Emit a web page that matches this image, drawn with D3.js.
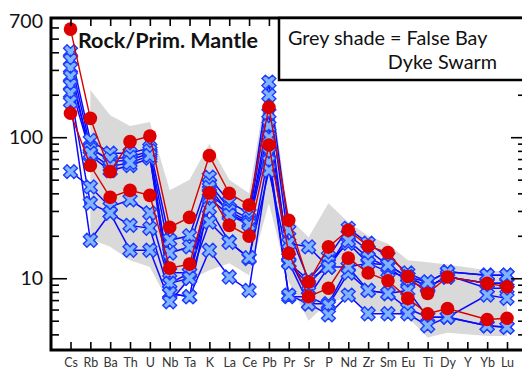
<!DOCTYPE html>
<html>
<head>
<meta charset="utf-8">
<script src="https://cdn.jsdelivr.net/npm/d3@7"></script>
<style>
  body { margin: 0; background: #fff; }
  svg { display: block; }
</style>
</head>
<body>
<script>
// element order of the spider diagram
const elements = ["Cs","Rb","Ba","Th","U","Nb","Ta","K","La","Ce","Pb","Pr","Sr","P","Nd","Zr","Sm","Eu","Ti","Dy","Y","Yb","Lu"];

// grey shade (False Bay Dyke Swarm field), null = no value
const greyUpper = [null,216,143,120,128,42,50,90,50,40,290,27,19.5,34,25,20,17.6,13.4,13,12.5,null,11.4,11.1];
const greyLower = [null,19,16.7,13.4,12,6.5,9.7,11.4,12.8,10.5,34,9.4,5,6.8,7.3,5.7,5.7,5.3,3.8,4.1,null,3.9,3.9];

// blue X samples (no Y values)
const blue1 = [404,95,77,77,84,18.6,20,52,34.8,28.8,246,21.9,9.7,14.2,22.6,17.7,14.2,10.9,9.4,11.1,null,10.5,10.5];
const blue2 = [351,85,67,69,77,15.1,16.7,47,31.2,26.5,198,17.7,16.7,12,20.2,15.8,12.4,10.2,8.7,10.2,null,9.2,9.2];
const blue3 = [309,74,58,63,71,11,10.9,44,28.8,24.4,148,12.8,9,13,17.7,12.8,11.1,10.2,8.7,10.2,null,9.2,9.2];
const blue4 = [268,82,70,72,80,9.2,10,40,30,25,120,14,7.4,12,18.5,14,12,9.5,8.5,10.5,null,8.5,8.5];
const blue5 = [234,77,62,66,74,7.8,7.4,37,28,24,100,13,6.6,6.6,12,8.2,7.8,8.2,5.3,5.3,null,7.6,7.2];
const blue6 = [57,44.4,32,36,29,9.2,10.9,31.3,18.1,13.8,77,7.4,7.4,6.4,10.9,8.2,7.8,6.1,5.3,5.3,null,4.6,4.5];
const blue7 = [205,34,29,23.7,22.6,7.8,7.4,15.8,10.2,8.2,67,7.6,6.6,5.5,7.6,5.6,5.6,5.6,4.6,5.3,null,4.6,4.5];
const blue8 = [178,18.6,29,15.8,15.8,6.8,10,25,18,14,58,12.8,9.7,12,12,12.8,12.4,10.2,9.4,11.1,null,10.5,10.5];

// red circle samples
const redA = [584,136,57,93,102,23,27,74,40,33,163,25.8,9.4,16.7,21.9,16.9,15.2,10.3,7.8,10.2,null,9.2,8.7];
const redB = [148,63,37.5,42,38.7,11.8,12.6,40.3,23.7,19.9,88,15,7.4,8.5,13.9,10.9,9.6,7.2,5.6,6.1,null,5.1,5.2];

const majorTicks = [10, 100];
const minorTicks = [4,5,6,7,8,9,20,30,40,50,60,70,80,90,200,300,400,500,600];
const tickLabels = [10, 100, 700];

const blueSeries = [blue1, blue2, blue3, blue4, blue5, blue6, blue7, blue8];
const redSeries = [redA, redB];

const W = 522, H = 369;
const plotLeft = 51, plotRight = 524, plotTop = 18, plotBottom = 350;
const font = "Lato, 'Open Sans', sans-serif";

const svg = d3.select("body").append("svg")
  .attr("width", W)
  .attr("height", H);

const x = d3.scalePoint().domain(elements).range([70.5, 507]);
const y = d3.scaleLog().domain([3.1, 700]).range([plotBottom, plotTop]);

// grey field
const greyData = elements
  .map((e, i) => ({ e: e, hi: greyUpper[i], lo: greyLower[i] }))
  .filter((d) => d.hi != null && d.lo != null);

svg.append("path")
  .datum(greyData)
  .attr("fill", "#d9d9d9")
  .attr("d", d3.area()
    .x((d) => x(d.e))
    .y0((d) => y(d.lo))
    .y1((d) => y(d.hi)));

const toPoints = (vals) => elements
  .map((e, i) => ({ e: e, v: vals[i] }))
  .filter((d) => d.v != null);

const line = d3.line().x((d) => x(d.e)).y((d) => y(d.v));

// blue lines then markers
svg.append("g").selectAll("path")
  .data(blueSeries)
  .enter()
  .append("path")
  .attr("d", (d) => line(toPoints(d)))
  .attr("fill", "none")
  .attr("stroke", "#0a0aff")
  .attr("stroke-width", 1.5);

const xMark = d3.symbol().type(d3.symbolCross).size(120);
blueSeries.forEach((s) => {
  svg.append("g").selectAll("path")
    .data(toPoints(s))
    .enter()
    .append("path")
    .attr("d", xMark)
    .attr("transform", (d) => `translate(${x(d.e)},${y(d.v)}) rotate(45)`)
    .attr("fill", "#80b4ff")
    .attr("stroke", "#1e3cff")
    .attr("stroke-width", 1.4);
});

// red lines and circles on top
svg.append("g").selectAll("path")
  .data(redSeries)
  .enter()
  .append("path")
  .attr("d", (d) => line(toPoints(d)))
  .attr("fill", "none")
  .attr("stroke", "#d60000")
  .attr("stroke-width", 1.4);

redSeries.forEach((s) => {
  svg.append("g").selectAll("circle")
    .data(toPoints(s))
    .enter()
    .append("circle")
    .attr("cx", (d) => x(d.e))
    .attr("cy", (d) => y(d.v))
    .attr("r", 6.8)
    .attr("fill", "#dd0000");
});

// axes: inward ticks on all four sides
const styleAxis = (g) => {
  g.select(".domain").remove();
  g.selectAll("line").attr("stroke", "#000").attr("stroke-width", 1.6);
};

svg.append("g").attr("transform", `translate(${plotLeft},0)`)
  .call(d3.axisRight(y).tickValues(minorTicks).tickSize(8).tickFormat(""))
  .call(styleAxis);
svg.append("g").attr("transform", `translate(${plotLeft},0)`)
  .call(d3.axisRight(y).tickValues(majorTicks).tickSize(16).tickFormat(""))
  .call(styleAxis);
svg.append("g").attr("transform", `translate(${plotRight},0)`)
  .call(d3.axisLeft(y).tickValues(minorTicks).tickSize(6).tickFormat(""))
  .call(styleAxis);
svg.append("g").attr("transform", `translate(${plotRight},0)`)
  .call(d3.axisLeft(y).tickValues(majorTicks).tickSize(13).tickFormat(""))
  .call(styleAxis);

svg.append("g").attr("transform", `translate(0,${plotBottom})`)
  .call(d3.axisTop(x).tickSize(8).tickFormat(""))
  .call(styleAxis);
svg.append("g").attr("transform", `translate(0,${plotTop})`)
  .call(d3.axisBottom(x).tickSize(8).tickFormat(""))
  .call(styleAxis);

// y labels
svg.append("g").selectAll("text")
  .data(tickLabels)
  .enter()
  .append("text")
  .attr("x", 43)
  .attr("y", (d) => (d === 700 ? y(d) + 3 : y(d)))
  .attr("dy", "0.35em")
  .attr("text-anchor", "end")
  .style("font-family", font)
  .style("font-size", "19.5px")
  .attr("fill", "#111")
  .text((d) => d);

// x labels (sit at the very bottom edge)
svg.append("g").attr("transform", `translate(0,${plotBottom})`)
  .call(d3.axisBottom(x).tickSize(0).tickPadding(8))
  .call((g) => {
    g.select(".domain").remove();
    g.selectAll("text")
      .style("font-family", font)
      .style("font-size", "12.5px")
      .attr("fill", "#333");
  });

// frame
svg.append("rect")
  .attr("x", plotLeft)
  .attr("y", plotTop)
  .attr("width", plotRight - plotLeft)
  .attr("height", plotBottom - plotTop)
  .attr("fill", "none")
  .attr("stroke", "#000")
  .attr("stroke-width", 3);

// legend box
svg.append("rect")
  .attr("x", 279)
  .attr("y", plotTop)
  .attr("width", 260)
  .attr("height", 62)
  .attr("fill", "#fff")
  .attr("stroke", "#000")
  .attr("stroke-width", 2.5);

svg.append("text")
  .attr("x", 288)
  .attr("y", 45)
  .style("font-family", font)
  .style("font-size", "19.8px")
  .attr("fill", "#111")
  .text("Grey shade = False Bay");

svg.append("text")
  .attr("x", 497)
  .attr("y", 69)
  .attr("text-anchor", "end")
  .style("font-family", font)
  .style("font-size", "19.8px")
  .attr("fill", "#111")
  .text("Dyke Swarm");

svg.append("text")
  .attr("x", 78)
  .attr("y", 48)
  .style("font-family", font)
  .style("font-size", "21.5px")
  .style("font-weight", "bold")
  .attr("fill", "#111")
  .text("Rock/Prim. Mantle");
</script>
</body>
</html>
